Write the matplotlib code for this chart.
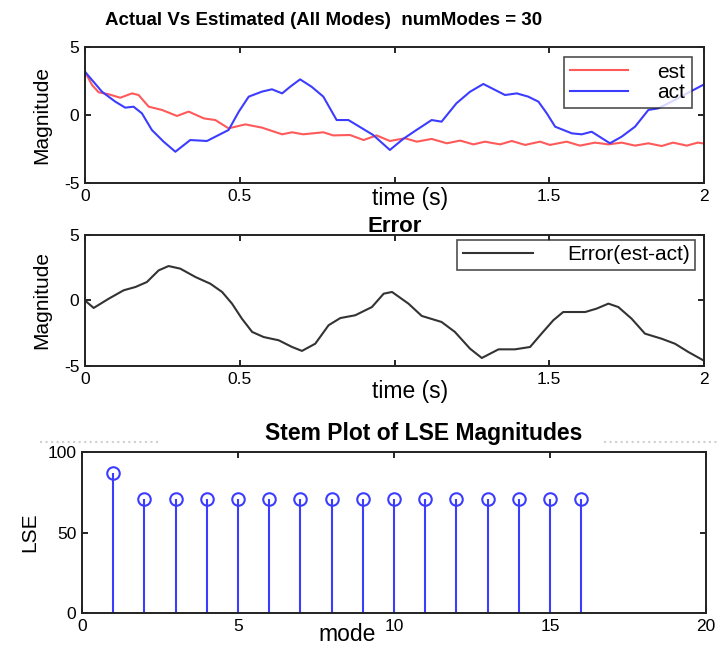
import numpy as np
import matplotlib
matplotlib.use("Agg")
import matplotlib.pyplot as plt
from matplotlib.lines import Line2D

plt.rcParams['font.family'] = ['Liberation Sans', 'DejaVu Sans']
plt.rcParams['axes.unicode_minus'] = False

# actual signal (blue)
t_act = [0, 0.055, 0.098, 0.13, 0.157, 0.184, 0.216, 0.254, 0.292, 0.34, 0.394,
         0.432, 0.464, 0.497, 0.529, 0.572, 0.604, 0.637, 0.663, 0.695, 0.732,
         0.77, 0.813, 0.851, 0.878, 0.931, 0.985, 1.028, 1.071, 1.12, 1.152,
         1.2, 1.244, 1.287, 1.325, 1.357, 1.395, 1.432, 1.465, 1.492, 1.519,
         1.573, 1.605, 1.637, 1.696, 1.734, 1.777, 1.82, 1.852, 1.895, 1.955, 2.0]
v_act = [3.18, 1.71, 0.98, 0.54, 0.61, 0.12, -1.1, -1.96, -2.7, -1.84, -1.91,
         -1.47, -1.1, 0.25, 1.35, 1.72, 1.89, 1.59, 2.08, 2.62, 2.08,
         1.35, -0.37, -0.37, -0.74, -1.47, -2.57, -1.76, -1.1, -0.37, -0.49,
         0.86, 1.71, 2.28, 1.84, 1.47, 1.59, 1.35, 0.98, 0.12, -0.86,
         -1.35, -1.42, -1.23, -2.08, -1.59, -0.86, 0.37, 0.49, 0.98, 1.71, 2.25]

# estimated signal (red)
t_est = [0, 0.023, 0.044, 0.077, 0.114, 0.152, 0.173, 0.206, 0.249, 0.297, 0.335,
         0.384, 0.421, 0.464, 0.518, 0.572, 0.637, 0.669, 0.705, 0.77, 0.802,
         0.856, 0.9, 0.942, 0.985, 1.034, 1.072, 1.12, 1.169, 1.212, 1.255,
         1.292, 1.341, 1.379, 1.422, 1.47, 1.502, 1.556, 1.599, 1.648, 1.691,
         1.734, 1.777, 1.82, 1.863, 1.9, 1.944, 1.98, 2.0]
v_est = [3.18, 2.2, 1.67, 1.52, 1.27, 1.59, 1.47, 0.61, 0.37, -0.07, 0.25,
         -0.25, -0.37, -0.98, -0.69, -0.93, -1.42, -1.27, -1.42, -1.27, -1.5,
         -1.47, -1.84, -1.5, -1.91, -1.71, -1.96, -1.76, -2.08, -1.88, -2.16,
         -1.96, -2.16, -1.91, -2.2, -1.96, -2.2, -1.96, -2.25, -2.03, -2.16,
         -2.03, -2.25, -2.08, -2.28, -2.03, -2.25, -2.03, -2.1]

# error curve (black)
t_err = [0, 0.028, 0.077, 0.125, 0.163, 0.2, 0.238, 0.27, 0.308, 0.357, 0.405,
         0.443, 0.475, 0.507, 0.54, 0.577, 0.626, 0.669, 0.701, 0.744, 0.787,
         0.825, 0.873, 0.927, 0.965, 0.992, 1.045, 1.088, 1.152, 1.195, 1.244,
         1.282, 1.336, 1.389, 1.438, 1.475, 1.513, 1.545, 1.616, 1.653, 1.691,
         1.723, 1.766, 1.809, 1.863, 1.906, 1.949, 2.0]
v_err = [0, -0.57, 0.14, 0.78, 1.03, 1.41, 2.3, 2.63, 2.43, 1.79, 1.28,
         0.65, -0.24, -1.39, -2.4, -2.79, -3.04, -3.55, -3.85, -3.3, -1.89,
         -1.34, -1.13, -0.5, 0.52, 0.65, -0.24, -1.18, -1.64, -2.4, -3.68,
         -4.39, -3.73, -3.73, -3.55, -2.53, -1.51, -0.88, -0.88, -0.62, -0.24,
         -0.5, -1.39, -2.53, -2.92, -3.3, -3.93, -4.6]

modes = list(range(1, 17))
lse = [87] + [71] * 15

time_ticks = [0, 0.5, 1, 1.5, 2]
time_labels = ['0', '0.5', '', '1.5', '2']   # the "1" sits under the "time (s)" label

fig = plt.figure(figsize=(7.19, 6.49), dpi=100)


def style(ax):
    ax.tick_params(direction='in', length=4, width=1.2, top=True, right=True,
                   labelsize=12.5, pad=4)
    for s in ax.spines.values():
        s.set_linewidth(1.4)
        s.set_color('#222222')


# top panel
ax1 = fig.add_axes([0.1182, 0.718, 0.861, 0.2096])
ax1.plot(t_est, v_est, color='#ff5a5a', lw=1.5, label='est')
ax1.plot(t_act, v_act, color='#3c3cff', lw=1.5, label='act')
ax1.set_xlim(0, 2)
ax1.set_ylim(-5, 5)
ax1.set_xticks(time_ticks)
ax1.set_xticklabels(time_labels)
ax1.set_yticks([-5, 0, 5])
style(ax1)
ax1.set_ylabel('Magnitude', fontsize=15, labelpad=9)
ax1.set_xlabel('time (s)', fontsize=16.5)
ax1.xaxis.set_label_coords(0.525, -0.03)
ax1.set_title('Actual Vs Estimated (All Modes)  numModes = 30', fontsize=13.5,
              fontweight='bold', x=0.385, pad=16)
leg = ax1.legend(loc='upper right', bbox_to_anchor=(0.98, 0.93), fontsize=15,
                 fancybox=False, edgecolor='#222222', handlelength=2.8,
                 borderpad=0.3, labelspacing=0.05, handletextpad=1.4,
                 borderaxespad=0)
leg.get_frame().set_linewidth(1.2)

# middle panel
ax2 = fig.add_axes([0.1182, 0.4361, 0.861, 0.2018])
ax2.plot(t_err, v_err, color='#333333', lw=1.5, label='Error(est-act)')
ax2.set_xlim(0, 2)
ax2.set_ylim(-5, 5)
ax2.set_xticks(time_ticks)
ax2.set_xticklabels(time_labels)
ax2.set_yticks([-5, 0, 5])
style(ax2)
ax2.set_ylabel('Magnitude', fontsize=15, labelpad=9)
ax2.set_xlabel('time (s)', fontsize=16.5)
ax2.xaxis.set_label_coords(0.525, -0.11)
ax2.set_title('Error', fontsize=16, fontweight='bold', pad=2)
leg2 = ax2.legend(loc='upper right', bbox_to_anchor=(0.985, 0.96), fontsize=15,
                  fancybox=False, edgecolor='#222222', handlelength=3.4,
                  borderpad=0.25, handletextpad=1.6, borderaxespad=0)
leg2.get_frame().set_linewidth(1.2)

# bottom panel
ax3 = fig.add_axes([0.114, 0.0555, 0.868, 0.248])
ml, sl, bl = ax3.stem(modes, lse, linefmt='-', markerfmt='o', basefmt=' ')
plt.setp(sl, color='#3c3cff', linewidth=1.5)
plt.setp(ml, markerfacecolor='none', markeredgecolor='#3c3cff', markersize=9,
         markeredgewidth=1.5)
ax3.set_xlim(0, 20)
ax3.set_ylim(0, 100)
ax3.set_xticks([0, 5, 10, 15, 20])
ax3.set_yticks([0, 50, 100])
style(ax3)
ax3.set_ylabel('LSE', fontsize=15, labelpad=6)
ax3.set_xlabel('mode', fontsize=16.5)
ax3.xaxis.set_label_coords(0.425, -0.06)
ax3.set_title('Stem Plot of LSE Magnitudes', fontsize=16.5, fontweight='bold',
              x=0.547, pad=9)

# faint dotted rules left over from the screenshot
for x0, x1 in [(0.055, 0.22), (0.84, 1.0)]:
    fig.add_artist(Line2D([x0, x1], [0.319, 0.319], color='#d0d0d0', lw=1.5,
                          ls=':', transform=fig.transFigure))

fig.savefig('out.png', dpi=100)
